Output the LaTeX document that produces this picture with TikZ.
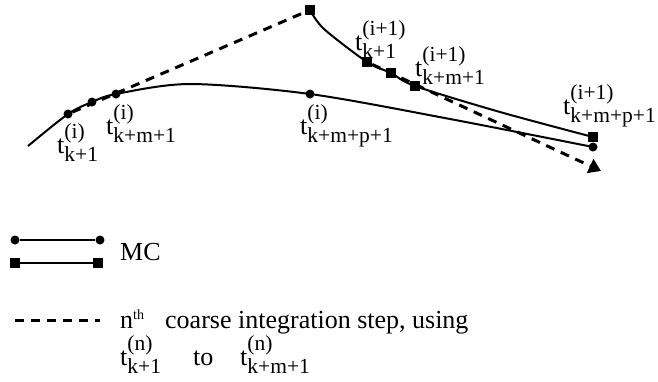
\documentclass[tikz,border=0pt]{standalone}
\usepackage{fontspec}
\setmainfont{Liberation Serif}
\usetikzlibrary{arrows.meta}
\newcommand{\scr}{\fontsize{21.5}{22}\selectfont}
\newcommand{\tlab}[2]{t\rlap{\raisebox{15pt}{\scr(#1)}}\raisebox{-8pt}{\scr #2}}

\begin{document}
\begin{tikzpicture}[x=1pt,y=-1pt,
    mc/.style={line width=2pt},
    coarse/.style={line width=3pt, dash pattern=on 9pt off 7pt},
    dot/.style={circle, fill, inner sep=0pt, minimum size=9pt},
    sq/.style={rectangle, fill, inner sep=0pt, minimum size=10pt},
    lab/.style={anchor=base west, inner sep=0pt, font=\fontsize{26}{30}\selectfont}]
    \useasboundingbox (0,0) rectangle (658,381);
    % MC run i
    \coordinate (a0) at (28,146);
    \node[dot] (a1) at (68,114) {};
    \node[dot] (a2) at (92,102) {};
    \node[dot] (a3) at (116,94) {};
    \coordinate (top) at (190,84);
    \node[dot] (a4) at (310,94) {};
    \coordinate (amid) at (450,119);
    \node[dot] (a5) at (593,147) {};
    \draw[mc] plot[smooth] coordinates {(a0) (a1) (a2) (a3) (top) (a4) (amid) (a5)};
    % MC run i+1
    \node[sq] (b0) at (310,10) {};
    \node[sq] (b1) at (367,62) {};
    \node[sq] (b2) at (391,73) {};
    \node[sq] (b3) at (415,86) {};
    \node[sq] (b4) at (593,137) {};
    \coordinate (bup) at (324,29);
    \coordinate (bmid) at (500,112);
    \draw[mc] plot[smooth] coordinates {(b0) (bup) (b1) (b2) (b3) (bmid) (b4)};
    % coarse steps
    \coordinate (tip) at (601,171);
    \draw[coarse] (a1) -- (b0);
    \draw[coarse, -{Triangle[length=12pt,width=15pt]}] (b1) -- (tip);
    % labels
    \node[lab] (ta1) at (57,153) {\tlab{i}{k+1}};
    \node[lab] (ta3) at (106,134) {\tlab{i}{k+m+1}};
    \node[lab] (ta4) at (300,134) {\tlab{i}{k+m+p+1}};
    \node[lab] (tb1) at (355,50) {\tlab{i+1}{k+1}};
    \node[lab] (tb3) at (415,76) {\tlab{i+1}{k+m+1}};
    \node[lab] (tb4) at (563,114) {\tlab{i+1}{k+m+p+1}};
    % legend
    \node[dot] (l1) at (15,240) {};
    \node[dot] (l2) at (100,240) {};
    \draw[mc] (l1) -- (l2);
    \node[sq] (l3) at (15,263) {};
    \node[sq] (l4) at (98,263) {};
    \draw[mc] (l3) -- (l4);
    \node[lab] (mc) at (120,260) {MC};
    \coordinate (d1) at (15,320);
    \coordinate (d2) at (100,320);
    \draw[coarse] (d1) -- (d2);
    \node[lab] (nth) at (120,328) {n\raisebox{9pt}{\fontsize{14}{14}\selectfont th}};
    \node[lab] (step) at (165,328) {coarse integration step, using};
    \node[lab] (from) at (120,365) {\tlab{n}{k+1}};
    \node[lab] (to) at (193,365) {to};
    \node[lab] (upto) at (240,365) {\tlab{n}{k+m+1}};
\end{tikzpicture}
\end{document}
